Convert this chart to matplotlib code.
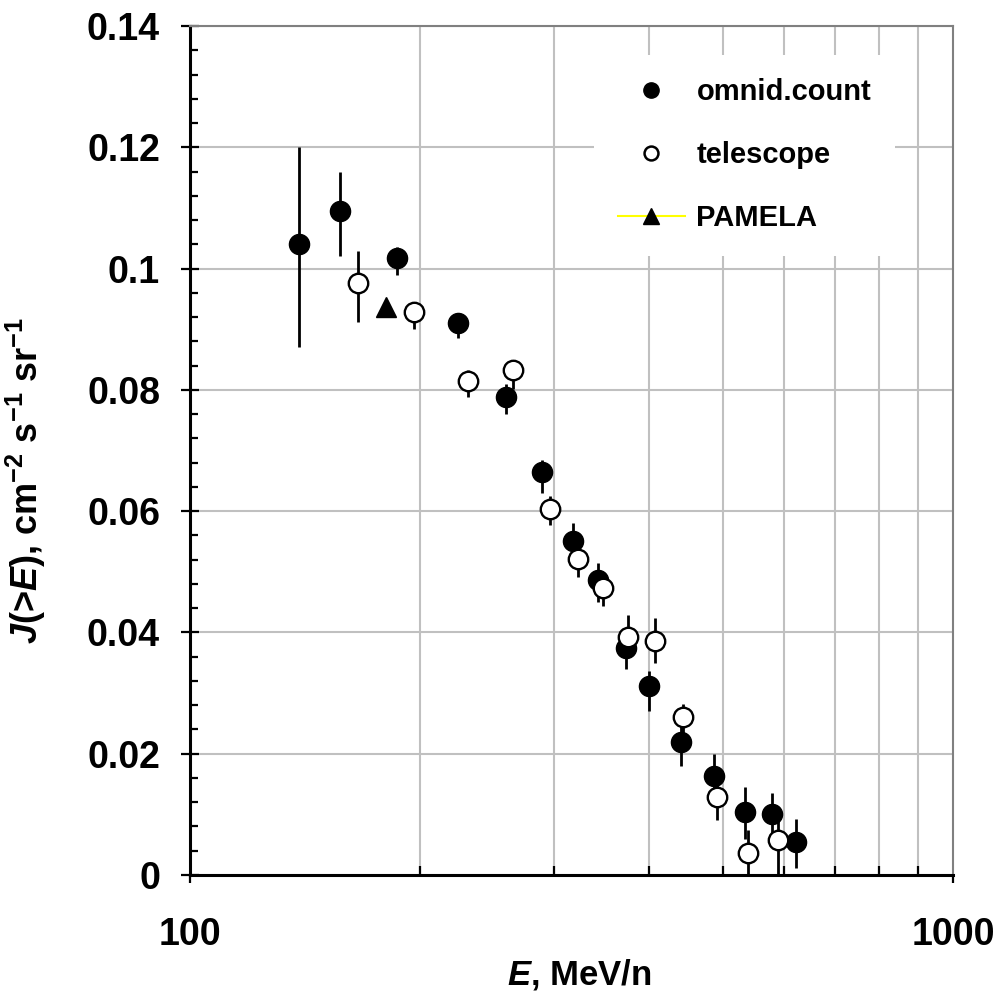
import numpy as np
import matplotlib
matplotlib.use("Agg")
import matplotlib.pyplot as plt
from matplotlib.lines import Line2D
from matplotlib.ticker import LogLocator, NullFormatter, FixedLocator, MultipleLocator

plt.rcParams["font.family"] = ["Liberation Sans", "DejaVu Sans"]
plt.rcParams["font.weight"] = "bold"
plt.rcParams["axes.labelweight"] = "bold"
plt.rcParams["mathtext.fontset"] = "custom"
plt.rcParams["mathtext.rm"] = "Liberation Sans:bold"
plt.rcParams["mathtext.bf"] = "Liberation Sans:bold"
plt.rcParams["mathtext.it"] = "Liberation Sans:italic:bold"
plt.rcParams["mathtext.default"] = "rm"

# omnidirectional counter
omni_E = [139, 157.3, 186.8, 224.5, 259.4, 289.3, 317.7, 342.5, 372.7, 399.5,
          440, 486.8, 534.4, 578.6, 621.9]
omni_J = [0.104, 0.1095, 0.1017, 0.0910, 0.0788, 0.0665, 0.0550, 0.0486, 0.0374,
          0.0311, 0.0220, 0.0164, 0.0104, 0.0100, 0.0054]
omni_lo = [0.087, 0.102, 0.099, 0.0885, 0.0760, 0.0630, 0.0520, 0.0450, 0.0340,
           0.0270, 0.0180, 0.0130, 0.0060, 0.0060, 0.0012]
omni_hi = [0.120, 0.116, 0.1035, 0.0925, 0.0810, 0.0685, 0.0580, 0.0515, 0.0405,
           0.0337, 0.0250, 0.0200, 0.0145, 0.0136, 0.0093]

# telescope
tel_E = [166.2, 196.8, 231.6, 264.8, 296.4, 322.2, 348.0, 375.0, 406.8, 442.3,
         490.0, 539.4, 589.1]
tel_J = [0.0976, 0.0928, 0.0815, 0.0833, 0.0604, 0.0521, 0.0474, 0.0393, 0.0386,
         0.0260, 0.0128, 0.0036, 0.0057]
tel_lo = [0.0912, 0.0900, 0.0789, 0.0801, 0.0577, 0.0492, 0.0444, 0.0360, 0.0349,
          0.0230, 0.0090, 0.0000, 0.0000]
tel_hi = [0.1029, 0.0945, 0.0833, 0.0849, 0.0625, 0.0540, 0.0500, 0.0429, 0.0423,
          0.0282, 0.0160, 0.0075, 0.0093]

# PAMELA
pam_E = [180.6]
pam_J = [0.0937]


def yerr(y, lo, hi):
    y, lo, hi = map(np.asarray, (y, lo, hi))
    return [y - lo, hi - y]


fig, ax = plt.subplots(figsize=(10.03, 9.96), dpi=100)
fig.subplots_adjust(left=0.1894, right=0.9502, bottom=0.1215, top=0.9739)

ax.errorbar(omni_E, omni_J, yerr=yerr(omni_J, omni_lo, omni_hi), fmt="o",
            color="black", ms=14.5, elinewidth=2.0, capsize=0, zorder=4)
ax.errorbar(tel_E, tel_J, yerr=yerr(tel_J, tel_lo, tel_hi), fmt="o",
            mfc="white", mec="black", ecolor="black", ms=14, mew=1.7,
            elinewidth=2.0, capsize=0, zorder=5)
ax.plot(pam_E, pam_J, "^", color="black", ms=15, zorder=6)

ax.set_xscale("log")
ax.set_xlim(100, 1000)
ax.set_ylim(0, 0.14)

ax.xaxis.set_major_locator(FixedLocator([100, 1000]))
ax.xaxis.set_major_formatter(plt.FuncFormatter(lambda v, p: f"{v:.0f}"))
ax.xaxis.set_minor_locator(LogLocator(base=10, subs=np.arange(2, 10)))
ax.xaxis.set_minor_formatter(NullFormatter())
ax.yaxis.set_major_locator(MultipleLocator(0.02))
ax.yaxis.set_minor_locator(MultipleLocator(0.004))
ax.yaxis.set_major_formatter(plt.FuncFormatter(lambda v, p: f"{v:.2f}".rstrip("0").rstrip(".") if v else "0"))

ax.grid(True, which="minor", axis="x", color="#c0c0c0", lw=1.5)
ax.grid(True, which="major", axis="y", color="#c0c0c0", lw=1.5)
ax.set_axisbelow(True)

for s in ["left", "bottom"]:
    ax.spines[s].set_linewidth(2.2)
    ax.spines[s].set_color("black")
for s in ["top", "right"]:
    ax.spines[s].set_linewidth(1.5)
    ax.spines[s].set_color("#808080")

ax.tick_params(axis="y", which="major", direction="inout", length=13, width=1.6,
               pad=15, labelsize=27)
ax.tick_params(axis="y", which="minor", direction="in", length=5.5, width=1.6)
ax.tick_params(axis="x", which="major", direction="out", length=6, width=1.6,
               pad=24, labelsize=27)
ax.tick_params(axis="x", which="minor", direction="in", length=6.5, width=1.6)

ax.set_xlabel(r"$\mathit{E}$, MeV/n", fontsize=25, fontweight="bold")
ax.set_ylabel(r"$\mathit{J}$(>$\mathit{E}$), cm$^{-2}$ s$^{-1}$ sr$^{-1}$",
              fontsize=26, fontweight="bold")
ax.xaxis.set_label_coords(0.51, -0.097)
ax.yaxis.set_label_coords(-0.186, 0.465)

handles = [
    Line2D([], [], ls="none", marker="o", color="black", ms=11),
    Line2D([], [], ls="none", marker="o", mfc="white", mec="black", ms=10, mew=1.8),
    Line2D([], [], color="yellow", lw=1.5, marker="^", mfc="black", mec="black", ms=11),
]
leg = ax.legend(handles, ["omnid.count", "telescope", "PAMELA"], loc="upper left",
                bbox_to_anchor=(0.53, 0.966), borderaxespad=0, fontsize=21,
                handlelength=2.3, handletextpad=0.4, labelspacing=1.2,
                borderpad=0.8, frameon=True, fancybox=False)
leg.get_frame().set_facecolor("white")
leg.get_frame().set_edgecolor("none")
leg.get_frame().set_alpha(1)

plt.savefig("out.png", dpi=100)
plt.close()
